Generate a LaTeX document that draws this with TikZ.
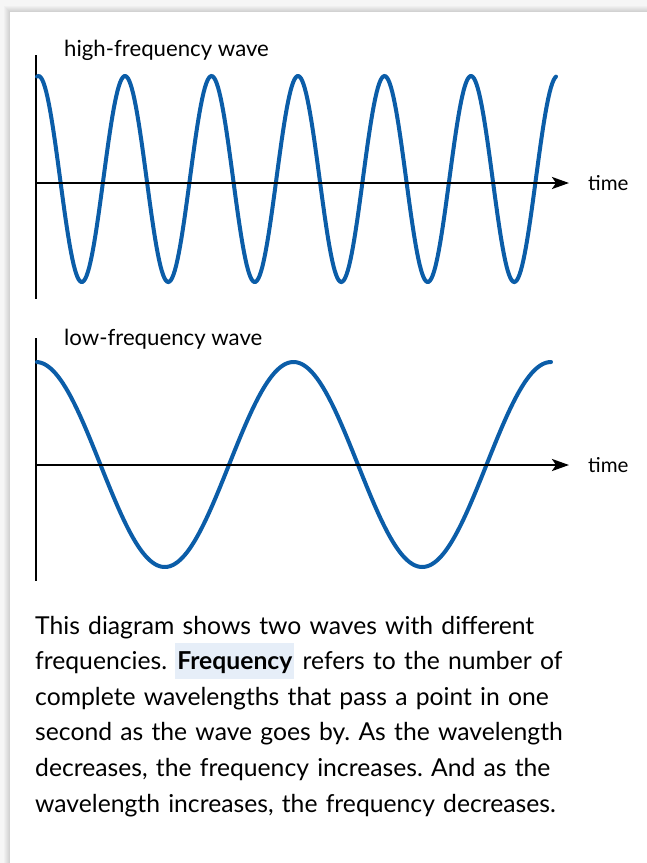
\documentclass[tikz,border=0pt]{standalone}
\usepackage{fontspec}
\setmainfont{Lato}
\usepackage{xcolor}
\usepackage{tikz}
\usetikzlibrary{positioning,arrows.meta}
\definecolor{wavecolor}{HTML}{0B5DA8}
\definecolor{hlcolor}{HTML}{E6EEF8}
\definecolor{pagecolor}{HTML}{F6F6F6}
\newcommand{\hlword}[1]{{\setlength{\fboxsep}{0pt}\colorbox{hlcolor}{\rule[-9.5pt]{0pt}{36pt}\hspace{2pt}\textbf{#1}\hspace{2pt}}}}
\frenchspacing

\begin{document}
\begin{tikzpicture}[
    x=1pt, y=-1pt,
    node distance=19pt,
    wave/.style={draw=wavecolor, line width=4pt, line cap=round},
    axis/.style={draw=black, line width=2.5pt},
    timeaxis/.style={axis, -{Stealth[length=17pt, width=12pt, inset=4pt]}},
    caption/.style={inner sep=0pt, font=\fontsize{22.2}{26}\selectfont},
    timelabel/.style={inner sep=0pt, font=\fontsize{20.5}{24}\selectfont},
    bodytext/.style={inner sep=0pt, align=left, text width=600pt,
                     font=\fontsize{24.7}{35.6}\selectfont}
]
\useasboundingbox (0,0) rectangle (647,863);
\clip (0,0) rectangle (647,863);
\fill[pagecolor] (0,0) rectangle (647,863);
% soft shadow round the card
\foreach \s in {6,5,4,3,2,1}
    \fill[black, opacity=0.025] (10-\s,12-\s) rectangle (700,900);
\fill[white] (10,12) rectangle (700,900);

% high-frequency wave
\coordinate (hiTop) at (36,55);
\coordinate (hiBot) at (36,299);
\coordinate (hiO) at (36,183);
\coordinate (hiEnd) at (569,183);
\node[caption, anchor=base west] (hilabel) at (64,56) {high-frequency wave};
\draw[axis] (hiTop) -- (hiBot);
\draw[wave] plot[domain=37:556, samples=400] (\x, {179-103*cos((\x-38.5)/86.5*360)});
\draw[timeaxis] (hiO) -- (hiEnd);
\node[timelabel, right=of hiEnd] (hitime) {time};

% low-frequency wave
\coordinate (loTop) at (36,338);
\coordinate (loBot) at (36,581);
\coordinate (loO) at (36,465);
\coordinate (loEnd) at (569,465);
\node[caption, anchor=base west] (lolabel) at (64,345) {low-frequency wave};
\draw[axis] (loTop) -- (loBot);
\draw[wave] plot[domain=37:551, samples=300] (\x, {464.5-102.5*cos((\x-36)/257.5*360)});
\draw[timeaxis] (loO) -- (loEnd);
\node[timelabel, right=of loEnd] (lotime) {time};

% explanation
\node[bodytext, anchor=base west] (body) at (35,634) {%
This diagram shows two waves with different\\
frequencies. \hlword{Frequency} refers to the number of\\
complete wavelengths that pass a point in one\\
second as the wave goes by. As the wavelength\\
decreases, the frequency increases. And as the\\
wavelength increases, the frequency decreases.};
\end{tikzpicture}
\end{document}
